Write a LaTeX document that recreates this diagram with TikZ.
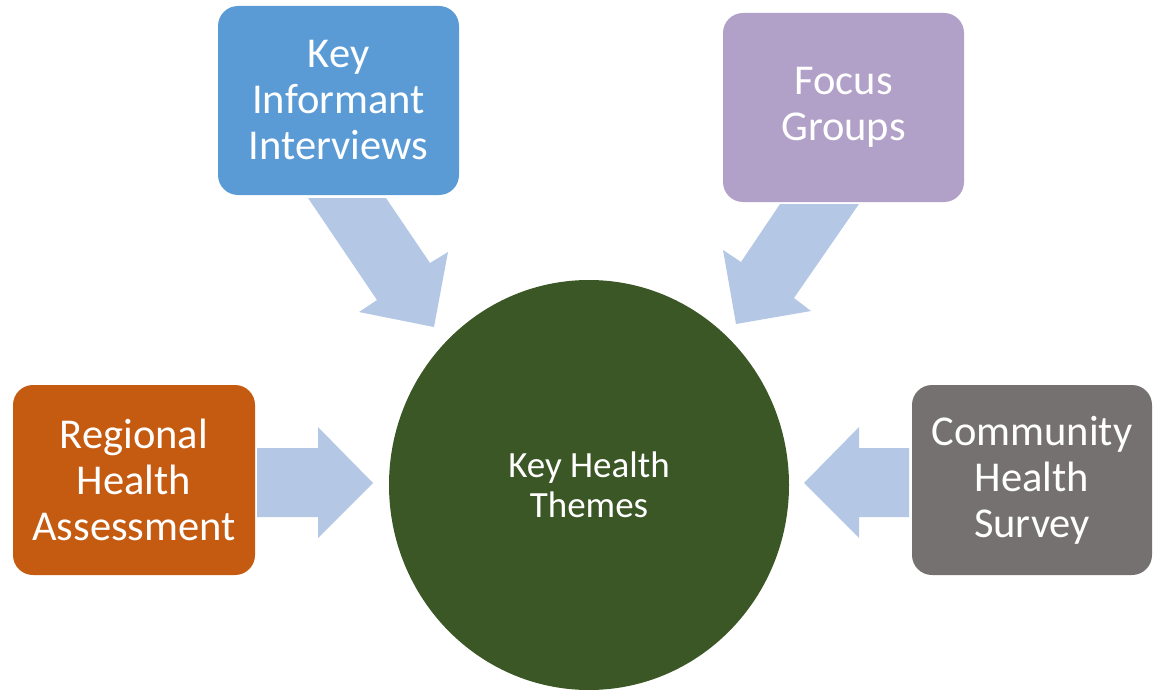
\documentclass[tikz,border=0pt]{standalone}
\usepackage{fontspec}
\setmainfont{Carlito}
\usetikzlibrary{shapes.geometric}
\definecolor{boxblue}{HTML}{5B9BD5}
\definecolor{boxpurple}{HTML}{B1A0C7}
\definecolor{boxorange}{HTML}{C55A11}
\definecolor{boxgray}{HTML}{767171}
\definecolor{hubgreen}{HTML}{3A5725}
\definecolor{arrowblue}{HTML}{B4C8E6}
\tikzset{
  srcbox/.style={rounded corners=20pt, minimum width=241pt, minimum height=189pt,
    text=white, align=center, inner sep=0pt, font=\fontsize{42.5}{46}\selectfont},
  hub/.style={ellipse, fill=hubgreen, minimum width=400pt, minimum height=410pt,
    text=white, align=center, inner sep=0pt, font=\fontsize{37}{40}\selectfont},
  blockarrow/.style={fill=arrowblue}
}
\begin{document}
\begin{tikzpicture}[x=1pt,y=-1pt]
\useasboundingbox (0,0) rectangle (1162,690);
\node[hub] (hub) at (589,485) {Key Health\\Themes};
\node[srcbox, fill=boxblue] (kii) at (338.5,100.5) {Key\\Informant\\Interviews};
\node[srcbox, fill=boxpurple] (fg) at (843.5,107.5) {Focus\\Groups};
\node[srcbox, fill=boxorange, minimum width=242pt, minimum height=190pt] (rha) at (134,480) {Regional\\Health\\Assessment};
\node[srcbox, fill=boxgray, minimum width=240pt, minimum height=190pt] (chs) at (1032,480) {Community\\Health\\Survey};
% block arrows
\fill[blockarrow] (308,198) -- (386,198) -- (430,263) -- (448,252) -- (434,327) -- (359,312) -- (377,300) -- cycle;
\fill[blockarrow] (780,204) -- (859,204) -- (794,298) -- (811,311) -- (736,324) -- (723,250) -- (741,262) -- cycle;
\fill[blockarrow] (257,448) -- (318,448) -- (318,427) -- (373,483) -- (318,538) -- (318,517) -- (257,517) -- cycle;
\fill[blockarrow] (909,448) -- (859,448) -- (859,427) -- (804,483) -- (859,538) -- (859,517) -- (909,517) -- cycle;
\end{tikzpicture}
\end{document}
